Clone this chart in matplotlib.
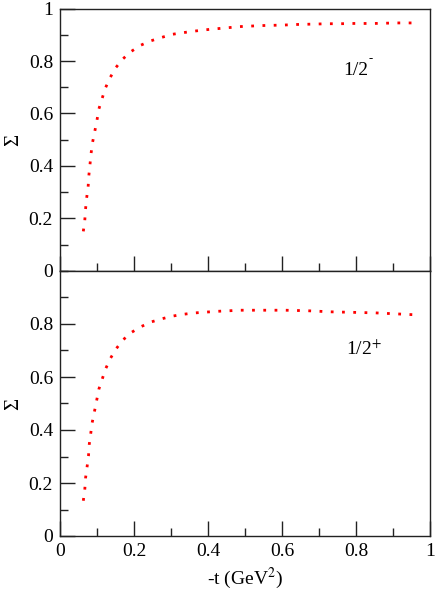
import matplotlib
matplotlib.use("Agg")
import matplotlib.pyplot as plt
from matplotlib.ticker import MultipleLocator

plt.rcParams['font.family'] = ['Liberation Serif', 'DejaVu Serif']
plt.rcParams['mathtext.fontset'] = 'stix'

# -t (GeV^2) and Sigma, 1/2- state (upper panel)
t_minus = [0.063, 0.067, 0.069, 0.072, 0.076, 0.078, 0.081, 0.084, 0.088, 0.094,
           0.100, 0.105, 0.114, 0.123, 0.136, 0.151, 0.170, 0.192, 0.218, 0.246,
           0.275, 0.305, 0.333, 0.364, 0.394, 0.424, 0.455, 0.485, 0.515, 0.546,
           0.576, 0.606, 0.636, 0.667, 0.697, 0.727, 0.758, 0.788, 0.818, 0.849,
           0.879, 0.910, 0.941, 0.970]
sig_minus = [0.151, 0.193, 0.235, 0.278, 0.320, 0.364, 0.405, 0.448, 0.490, 0.532,
             0.575, 0.617, 0.658, 0.698, 0.738, 0.775, 0.808, 0.836, 0.860, 0.877,
             0.890, 0.902, 0.908, 0.914, 0.919, 0.923, 0.927, 0.931, 0.933, 0.935,
             0.936, 0.937, 0.939, 0.940, 0.941, 0.942, 0.942, 0.943, 0.943, 0.943,
             0.944, 0.945, 0.945, 0.945]

# 1/2+ state (lower panel)
t_plus = [0.063, 0.067, 0.069, 0.073, 0.077, 0.079, 0.083, 0.087, 0.093, 0.099,
          0.105, 0.114, 0.124, 0.137, 0.152, 0.171, 0.194, 0.219, 0.247, 0.276,
          0.305, 0.335, 0.366, 0.396, 0.427, 0.458, 0.487, 0.517, 0.547, 0.577,
          0.608, 0.639, 0.669, 0.700, 0.730, 0.760, 0.791, 0.821, 0.852, 0.882,
          0.912, 0.942, 0.972]
sig_plus = [0.133, 0.175, 0.218, 0.259, 0.302, 0.345, 0.386, 0.428, 0.469, 0.511,
            0.554, 0.592, 0.633, 0.672, 0.707, 0.741, 0.769, 0.790, 0.808, 0.820,
            0.830, 0.837, 0.842, 0.845, 0.848, 0.850, 0.852, 0.852, 0.852, 0.852,
            0.852, 0.851, 0.850, 0.848, 0.846, 0.845, 0.844, 0.843, 0.842, 0.840,
            0.838, 0.836, 0.834]

yticks_top = [0, 0.2, 0.4, 0.6, 0.8, 1]
yticks_bot = [0, 0.2, 0.4, 0.6, 0.8]
xticks = [0, 0.2, 0.4, 0.6, 0.8, 1]

fig = plt.figure(figsize=(4.36, 5.95), dpi=100)
ax1 = fig.add_axes([60/436, 1 - 271/595, 370/436, 262.5/595])
ax2 = fig.add_axes([60/436, 1 - 536/595, 370/436, 265/595])

dots = (0, (1, 3.05))
ax1.plot(t_minus, sig_minus, color='#ff0000', lw=2.0, linestyle=dots)
ax2.plot(t_plus, sig_plus, color='#ff0000', lw=2.0, linestyle=dots)

for ax, yt in ((ax1, yticks_top), (ax2, yticks_bot)):
    ax.set_xlim(0, 1)
    ax.set_ylim(0, 1)
    ax.set_yticks(yt)
    ax.set_yticklabels(['%g' % v for v in yt])
    ax.set_xticks(xticks)
    ax.xaxis.set_minor_locator(MultipleLocator(0.1))
    ax.yaxis.set_minor_locator(MultipleLocator(0.1))
    ax.tick_params(which='both', direction='in', top=False, right=False,
                   labelsize=14, width=1.0, color='#222222')
    ax.tick_params(which='major', length=10.8, pad=5)
    ax.tick_params(which='minor', length=5.5)
    for s in ax.spines.values():
        s.set_linewidth(1.0)
        s.set_color('#222222')
    ax.set_ylabel('Σ', fontsize=15)
    ax.yaxis.set_label_coords(-0.1, 0.5)

ax1.tick_params(axis='x', labelbottom=False)
ax2.set_xticklabels(['%g' % v for v in xticks])
ax2.set_xlabel('-t (GeV$^2$)', fontsize=14, labelpad=4)

# state labels
ax1.text(0.765, 0.747, '1/2', fontsize=14, va='baseline', ha='left')
ax1.text(0.834, 0.795, '-', fontsize=9, va='baseline', ha='left')
ax2.text(0.773, 0.683, '1/2$^{+}$', fontsize=14, va='baseline', ha='left')

fig.savefig('out.png', dpi=100)
